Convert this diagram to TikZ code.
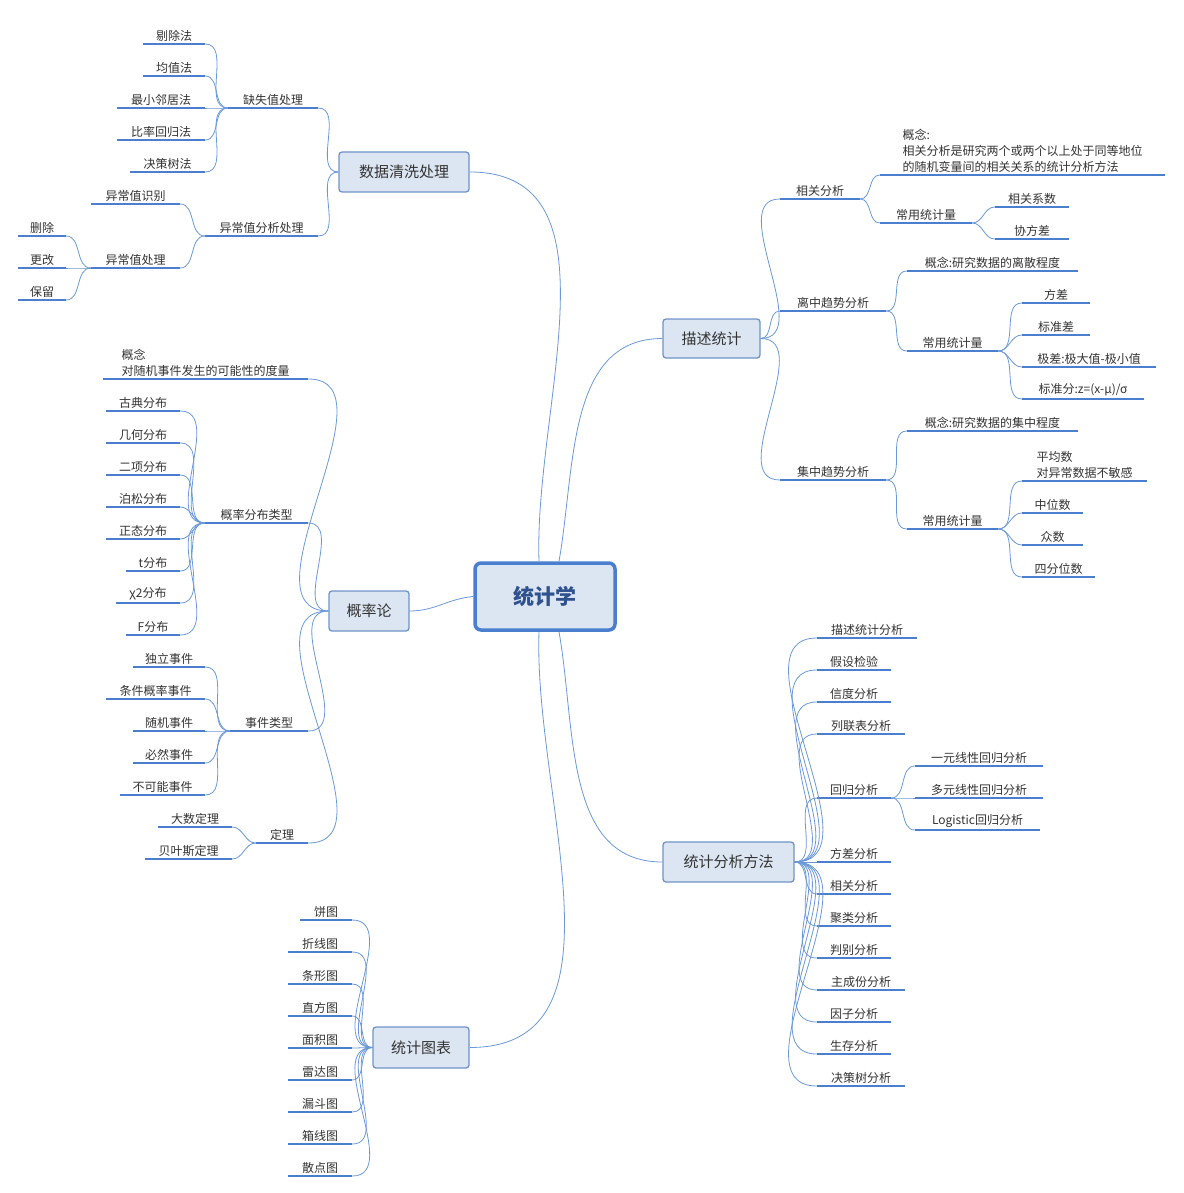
\documentclass[tikz,border=0pt]{standalone}
\usepackage{fontspec}
\setmainfont{Noto Sans CJK SC}
\definecolor{ulc}{HTML}{4A7FCF}
\definecolor{cnc}{HTML}{6A98D8}
\definecolor{boxf}{HTML}{DCE6F2}
\definecolor{boxd}{HTML}{6F93C8}
\definecolor{txt}{HTML}{333333}
\definecolor{ctxt}{HTML}{2F528F}
\newcommand\lf[5]{\pgfmathsetmacro\lfw{#3-#2}\node[lf,minimum width={\lfw*1pt}] (#1) at ({(#2+#3)/2},#4) {#5};\draw[ul] (#1.south west)--(#1.south east);}
\newcommand\cnl[2]{\draw[cn] (#1.south west) to[out=180,in=0] (#2.south east);}
\newcommand\cnr[2]{\draw[cn] (#1.south east) to[out=0,in=180] (#2.south west);}
\begin{document}
\begin{tikzpicture}[x=1pt,y=-1pt,
 lf/.style={anchor=south,inner xsep=0pt,inner ysep=2.5pt,font=\fontsize{12}{16}\selectfont,text=txt,align=left},
 ul/.style={ulc,line width=2pt},
 cn/.style={cnc,line width=0.8pt},
 mb/.style={draw=boxd,fill=boxf,line width=1.3pt,rounded corners=3pt,font=\fontsize{15}{18}\selectfont,text=txt,inner sep=0pt}]
\path[use as bounding box] (0,0) rectangle (1183,1193);
% main boxes
\node[draw=ulc,fill=boxf,line width=3.5pt,rounded corners=6pt,minimum width=140pt,minimum height=67pt,font=\fontsize{21}{24}\selectfont\bfseries,text=ctxt] (C) at (545,596.5) {统计学};
\node[mb,minimum width=130pt,minimum height=40pt] (D) at (404,172) {数据清洗处理};
\node[mb,minimum width=97pt,minimum height=39pt] (M) at (711.5,338.5) {描述统计};
\node[mb,minimum width=80pt,minimum height=40pt] (P) at (369,611) {概率论};
\node[mb,minimum width=131pt,minimum height=40pt] (A) at (728.5,862) {统计分析方法};
\node[mb,minimum width=96pt,minimum height=41pt] (G) at (421,1047.5) {统计图表};
\draw[cn] ([xshift=-6pt]C.north) to[out=92,in=0] (D.east);
\draw[cn] ([xshift=14pt]C.north) to[out=80,in=180] (M.west);
\draw[cn] (C.west) to[out=185,in=0] (P.east);
\draw[cn] ([xshift=-6pt]C.south) to[out=-92,in=0] (G.east);
\draw[cn] ([xshift=14pt]C.south) to[out=-80,in=180] (A.west);
% 数据清洗处理
\lf{q1}{228}{318}{108}{缺失值处理}
\lf{q2}{205}{318}{236}{异常值分析处理}
\draw[cn] (D.west) to[out=180,in=0] (q1.south east);
\draw[cn] (D.west) to[out=180,in=0] (q2.south east);
\lf{q11}{143}{205}{44}{剔除法}
\lf{q12}{143}{205}{76}{均值法}
\lf{q13}{117}{205}{108}{最小邻居法}
\lf{q14}{117}{205}{140}{比率回归法}
\lf{q15}{130}{205}{172}{决策树法}
\foreach \i in {1,...,5}{\cnl{q1}{q1\i}}
\lf{q21}{91}{180}{204}{异常值识别}
\lf{q22}{91}{180}{268}{异常值处理}
\cnl{q2}{q21}\cnl{q2}{q22}
\lf{q221}{18}{66}{236}{删除}
\lf{q222}{18}{66}{268}{更改}
\lf{q223}{18}{66}{300}{保留}
\foreach \i in {1,2,3}{\cnl{q22}{q22\i}}
% 描述统计
\lf{m1}{780}{860}{199}{相关分析}
\lf{m2}{780}{886}{311}{离中趋势分析}
\lf{m3}{780}{886}{480}{集中趋势分析}
\foreach \i in {1,2,3}{\draw[cn] (M.east) to[out=0,in=180] (m\i.south west);}
\lf{m11}{880}{1165}{175}{概念:\\相关分析是研究两个或两个以上处于同等地位\\的随机变量间的相关关系的统计分析方法}
\lf{m12}{880}{972}{223}{常用统计量}
\cnr{m1}{m11}\cnr{m1}{m12}
\lf{m121}{995}{1069}{207}{相关系数}
\lf{m122}{995}{1069}{239}{协方差}
\cnr{m12}{m121}\cnr{m12}{m122}
\lf{m21}{907}{1078}{271}{概念:研究数据的离散程度}
\lf{m22}{907}{998}{351}{常用统计量}
\cnr{m2}{m21}\cnr{m2}{m22}
\lf{m221}{1022}{1090}{303}{方差}
\lf{m222}{1022}{1090}{335}{标准差}
\lf{m223}{1022}{1156}{367}{极差:极大值-极小值}
\lf{m224}{1022}{1144}{399}{标准分:z=(x-μ)/σ}
\foreach \i in {1,...,4}{\cnr{m22}{m22\i}}
\lf{m31}{907}{1078}{431}{概念:研究数据的集中程度}
\lf{m32}{907}{998}{529}{常用统计量}
\cnr{m3}{m31}\cnr{m3}{m32}
\lf{m321}{1022}{1147}{481}{平均数\\对异常数据不敏感}
\lf{m322}{1022}{1083}{513}{中位数}
\lf{m323}{1022}{1083}{545}{众数}
\lf{m324}{1022}{1095}{577}{四分位数}
\foreach \i in {1,...,4}{\cnr{m32}{m32\i}}
% 统计分析方法
\lf{a1}{817}{917}{638}{描述统计分析}
\lf{a2}{817}{891}{670}{假设检验}
\lf{a3}{817}{891}{702}{信度分析}
\lf{a4}{817}{905}{734}{列联表分析}
\lf{a5}{817}{891}{798}{回归分析}
\lf{a6}{817}{891}{862}{方差分析}
\lf{a7}{817}{891}{894}{相关分析}
\lf{a8}{817}{891}{926}{聚类分析}
\lf{a9}{817}{891}{958}{判别分析}
\lf{a10}{817}{905}{990}{主成份分析}
\lf{a11}{817}{891}{1022}{因子分析}
\lf{a12}{817}{891}{1054}{生存分析}
\lf{a13}{817}{905}{1086}{决策树分析}
\foreach \i in {1,...,13}{\draw[cn] (A.east) to[out=0,in=180] (a\i.south west);}
\lf{a51}{915}{1043}{766}{一元线性回归分析}
\lf{a52}{915}{1043}{798}{多元线性回归分析}
\lf{a53}{915}{1040}{830}{Logistic回归分析}
\foreach \i in {1,2,3}{\cnr{a5}{a5\i}}
% 概率论
\lf{p1}{103}{308}{379}{概念\\对随机事件发生的可能性的度量}
\lf{p2}{205}{308}{523}{概率分布类型}
\lf{p3}{230}{308}{731}{事件类型}
\lf{p4}{256}{308}{843}{定理}
\foreach \i in {1,...,4}{\draw[cn] (P.west) to[out=180,in=0] (p\i.south east);}
\lf{p21}{106}{180}{411}{古典分布}
\lf{p22}{106}{180}{443}{几何分布}
\lf{p23}{106}{180}{475}{二项分布}
\lf{p24}{106}{180}{507}{泊松分布}
\lf{p25}{106}{180}{539}{正态分布}
\lf{p26}{126}{180}{571}{t分布}
\lf{p27}{116}{180}{603}{χ2分布}
\lf{p28}{126}{180}{635}{F分布}
\foreach \i in {1,...,8}{\cnl{p2}{p2\i}}
\lf{p31}{133}{205}{667}{独立事件}
\lf{p32}{106}{205}{699}{条件概率事件}
\lf{p33}{133}{205}{731}{随机事件}
\lf{p34}{133}{205}{763}{必然事件}
\lf{p35}{120}{205}{795}{不可能事件}
\foreach \i in {1,...,5}{\cnl{p3}{p3\i}}
\lf{p41}{158}{232}{827}{大数定理}
\lf{p42}{145}{232}{859}{贝叶斯定理}
\cnl{p4}{p41}\cnl{p4}{p42}
% 统计图表
\lf{g1}{300}{352}{920}{饼图}
\lf{g2}{288}{352}{952}{折线图}
\lf{g3}{288}{352}{984}{条形图}
\lf{g4}{288}{352}{1016}{直方图}
\lf{g5}{288}{352}{1048}{面积图}
\lf{g6}{288}{352}{1080}{雷达图}
\lf{g7}{288}{352}{1112}{漏斗图}
\lf{g8}{288}{352}{1144}{箱线图}
\lf{g9}{288}{352}{1176}{散点图}
\foreach \i in {1,...,9}{\draw[cn] (G.west) to[out=180,in=0] (g\i.south east);}
\end{tikzpicture}
\end{document}
